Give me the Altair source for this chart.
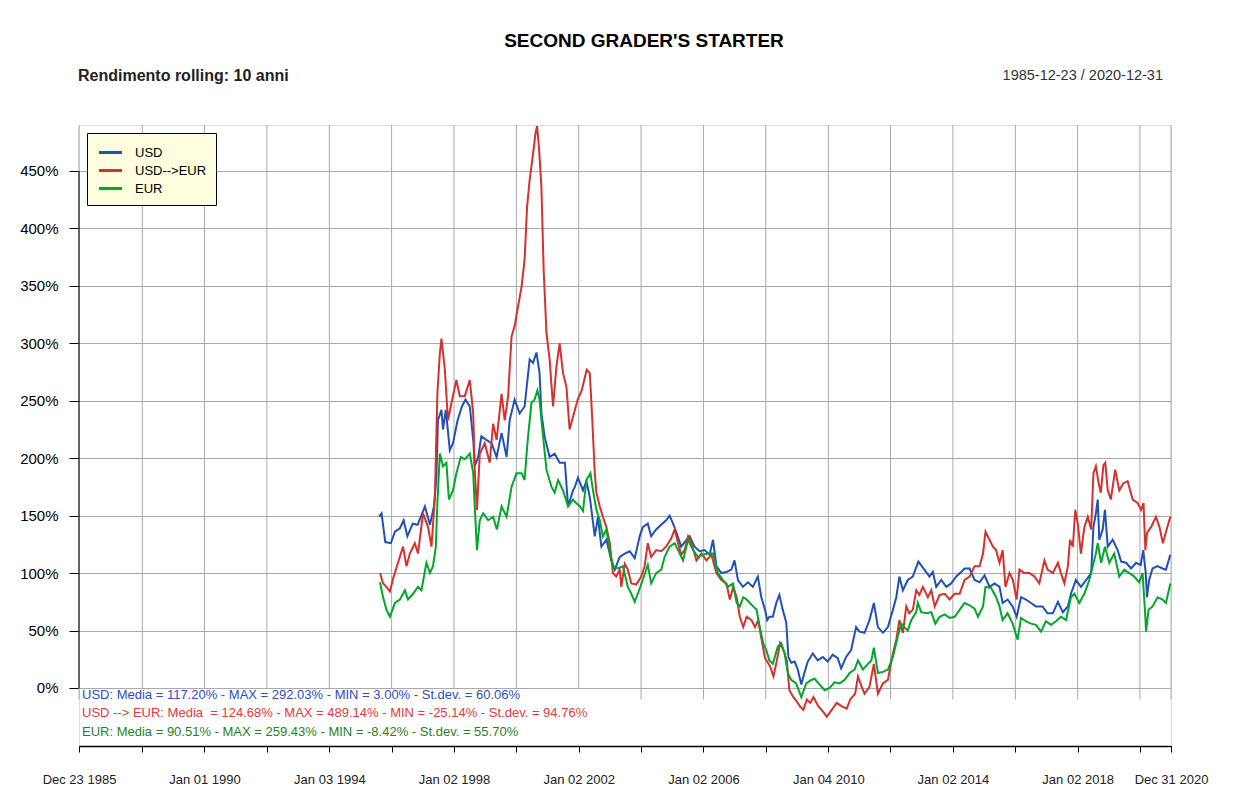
import altair as alt
import pandas as pd

# ---------------- texts ----------------
title_text = "SECOND GRADER'S STARTER"
subtitle_text = "Rendimento rolling: 10 anni"
period_text = "1985-12-23 / 2020-12-31"

series_names = ["USD", "USD-->EUR", "EUR"]
series_colors = ["#2150B7", "#D3322F", "#00A82A"]

stats_lines = [
    "USD: Media = 117.20% - MAX = 292.03% - MIN = 3.00% - St.dev. = 60.06%",
    "USD --> EUR: Media\u00a0 = 124.68% - MAX = 489.14% - MIN = -25.14% - St.dev. = 94.76%",
    "EUR: Media = 90.51% - MAX = 259.43% - MIN = -8.42% - St.dev. = 55.70%",
]
stats_colors = ["#2A4FC8", "#E03A3A", "#1E841E"]

# ---------------- axes ----------------
y_ticks = [0, 50, 100, 150, 200, 250, 300, 350, 400, 450]
x_ticks = ["1985-12-23", "1988-01-04", "1990-01-01", "1992-01-02", "1994-01-03",
           "1996-01-02", "1998-01-02", "2000-01-03", "2002-01-02", "2004-01-02",
           "2006-01-02", "2008-01-02", "2010-01-04", "2012-01-02", "2014-01-02",
           "2016-01-04", "2018-01-02", "2020-01-02", "2020-12-31"]

# ---------------- series (decimal year, rolling 10y return %) ----------------
usd = [(1995.60,149),(1995.68,152),(1995.80,127),(1995.98,126),(1996.11,136),(1996.27,139),
       (1996.39,146),(1996.51,132),(1996.68,143),(1996.84,142),(1997.07,158),(1997.23,142),
       (1997.36,158),(1997.44,184),(1997.49,233),(1997.60,242),(1997.65,225),(1997.74,242),
       (1997.87,207),(1997.97,213),(1998.12,233),(1998.26,245),(1998.37,251),(1998.51,245),
       (1998.62,216),(1998.67,193),(1998.78,201),(1998.88,219),(1999.04,216),(1999.21,213),
       (1999.37,201),(1999.53,222),(1999.69,201),(1999.79,233),(1999.95,251),(2000.11,239),
       (2000.27,245),(2000.43,286),(2000.54,283),(2000.65,292),(2000.75,274),(2000.81,239),
       (2000.91,219),(2001.07,201),(2001.23,204),(2001.39,196),(2001.56,196),(2001.66,158),
       (2001.82,172),(2001.88,175),(2001.98,183),(2002.14,172),(2002.25,180),(2002.36,166),
       (2002.52,132),(2002.62,149),(2002.73,123),(2002.89,129),(2003.05,111),(2003.16,103),
       (2003.32,114),(2003.48,117),(2003.64,119),(2003.80,113),(2003.96,132),(2004.06,140),
       (2004.22,143),(2004.33,132),(2004.49,138),(2004.65,142),(2004.81,146),(2004.92,150),
       (2005.03,143),(2005.13,136),(2005.29,123),(2005.46,129),(2005.56,132),(2005.72,123),
       (2005.88,119),(2006.04,120),(2006.20,116),(2006.31,129),(2006.42,106),(2006.58,100),
       (2006.74,101),(2006.90,103),(2007.00,111),(2007.11,94),(2007.27,88),(2007.43,92),
       (2007.59,88),(2007.75,97),(2007.86,79),(2007.98,68),(2008.05,59),(2008.12,62),
       (2008.23,62),(2008.34,74),(2008.44,81),(2008.55,68),(2008.66,57),(2008.73,27),
       (2008.82,22),(2008.93,23),(2009.03,16),(2009.14,3),(2009.25,14),(2009.35,23),
       (2009.51,30),(2009.67,24),(2009.83,27),(2009.99,23),(2010.15,29),(2010.31,26),
       (2010.42,17),(2010.58,27),(2010.74,33),(2010.90,53),(2011.01,49),(2011.17,48),
       (2011.33,59),(2011.47,74),(2011.60,53),(2011.76,48),(2011.92,53),(2012.08,68),
       (2012.19,79),(2012.29,97),(2012.40,85),(2012.56,94),(2012.72,97),(2012.90,110),
       (2013.09,103),(2013.25,97),(2013.36,101),(2013.47,88),(2013.63,94),(2013.79,88),
       (2013.95,91),(2014.11,97),(2014.27,101),(2014.38,104),(2014.54,104),(2014.70,94),
       (2014.86,92),(2015.02,98),(2015.18,88),(2015.34,91),(2015.50,88),(2015.60,74),
       (2015.76,77),(2015.92,71),(2016.05,62),(2016.19,79),(2016.35,77),(2016.51,74),
       (2016.67,71),(2016.88,71),(2017.04,65),(2017.21,65),(2017.37,75),(2017.53,66),
       (2017.69,71),(2017.79,82),(2017.95,94),(2018.11,88),(2018.28,94),(2018.44,100),
       (2018.51,140),(2018.59,152),(2018.65,164),(2018.70,129),(2018.81,138),(2018.88,155),
       (2018.97,123),(2019.13,129),(2019.29,120),(2019.40,110),(2019.56,109),(2019.72,104),
       (2019.88,109),(2020.03,107),(2020.11,120),(2020.19,100),(2020.23,79),(2020.30,94),
       (2020.41,104),(2020.57,106),(2020.73,104),(2020.84,103),(2020.98,116)]

usd_eur = [(1995.63,100),(1995.73,91),(1995.84,88),(1995.95,84),(1996.05,95),(1996.21,109),
       (1996.37,123),(1996.48,106),(1996.59,117),(1996.75,126),(1996.85,117),(1997.01,152),
       (1997.17,140),(1997.28,123),(1997.39,166),(1997.47,256),(1997.55,291),(1997.60,304),
       (1997.71,277),(1997.81,233),(1997.92,248),(1998.08,268),(1998.19,254),(1998.35,254),
       (1998.51,268),(1998.62,239),(1998.67,190),(1998.74,155),(1998.83,204),(1998.99,213),
       (1999.15,196),(1999.26,230),(1999.37,216),(1999.53,256),(1999.63,233),(1999.74,254),
       (1999.85,306),(1999.95,315),(2000.06,332),(2000.17,349),(2000.27,373),(2000.35,419),
       (2000.43,442),(2000.54,465),(2000.62,483),(2000.67,489),(2000.73,471),(2000.81,436),
       (2000.88,364),(2000.97,309),(2001.07,286),(2001.18,245),(2001.29,280),(2001.39,300),
       (2001.50,274),(2001.61,262),(2001.71,225),(2001.81,235),(2001.97,251),(2002.10,259),
       (2002.26,277),(2002.36,274),(2002.44,233),(2002.52,187),(2002.57,170),(2002.68,158),
       (2002.78,149),(2002.89,140),(2003.00,126),(2003.10,100),(2003.21,97),(2003.32,103),
       (2003.37,88),(2003.48,108),(2003.58,103),(2003.69,91),(2003.85,90),(2004.01,97),
       (2004.12,106),(2004.22,126),(2004.33,114),(2004.49,120),(2004.65,119),(2004.81,123),
       (2004.97,130),(2005.08,138),(2005.19,126),(2005.29,116),(2005.40,120),(2005.51,132),
       (2005.62,126),(2005.78,111),(2005.94,117),(2006.10,111),(2006.26,116),(2006.42,100),
       (2006.58,94),(2006.74,91),(2006.85,77),(2006.96,88),(2007.07,79),(2007.17,62),
       (2007.28,53),(2007.39,62),(2007.55,59),(2007.66,53),(2007.76,59),(2007.87,42),
       (2007.98,26),(2008.14,19),(2008.25,10),(2008.36,24),(2008.46,39),(2008.57,33),
       (2008.68,24),(2008.76,-2),(2008.89,-8),(2009.00,-12),(2009.10,-16),(2009.21,-19),
       (2009.32,-10),(2009.43,-13),(2009.53,-8),(2009.69,-16),(2009.85,-21),(2009.96,-25),
       (2010.12,-19),(2010.28,-13),(2010.44,-16),(2010.60,-18),(2010.71,-10),(2010.87,-5),
       (2010.96,10),(2011.08,1),(2011.17,-5),(2011.33,1),(2011.47,21),(2011.60,-5),
       (2011.76,4),(2011.92,7),(2012.08,30),(2012.19,42),(2012.29,59),(2012.40,48),
       (2012.51,71),(2012.61,65),(2012.72,68),(2012.83,85),(2012.93,81),(2013.04,88),
       (2013.20,79),(2013.31,85),(2013.42,71),(2013.58,81),(2013.74,82),(2013.90,77),
       (2014.06,82),(2014.22,82),(2014.38,94),(2014.54,97),(2014.70,106),(2014.86,106),
       (2014.97,117),(2015.05,136),(2015.18,129),(2015.29,123),(2015.39,120),(2015.50,109),
       (2015.60,120),(2015.69,88),(2015.82,100),(2015.93,94),(2016.05,77),(2016.14,103),
       (2016.30,100),(2016.46,100),(2016.62,97),(2016.78,91),(2016.94,111),(2017.04,103),
       (2017.21,100),(2017.37,109),(2017.47,100),(2017.58,91),(2017.69,106),(2017.76,129),
       (2017.85,123),(2017.93,155),(2018.01,143),(2018.11,117),(2018.22,140),(2018.33,149),
       (2018.44,138),(2018.51,187),(2018.59,193),(2018.68,178),(2018.75,170),(2018.83,194),
       (2018.89,196),(2018.97,172),(2019.07,164),(2019.21,190),(2019.34,172),(2019.47,178),
       (2019.61,180),(2019.77,164),(2019.93,161),(2020.04,155),(2020.12,161),(2020.18,120),
       (2020.23,135),(2020.36,140),(2020.52,149),(2020.63,140),(2020.74,126),(2020.86,138),
       (2020.98,149)]

eur = [(1995.63,92),(1995.73,79),(1995.84,68),(1995.95,62),(1996.11,74),(1996.27,77),
       (1996.43,85),(1996.53,77),(1996.69,82),(1996.85,88),(1996.96,85),(1997.12,109),
       (1997.23,100),(1997.33,106),(1997.42,123),(1997.47,161),(1997.55,204),(1997.65,193),
       (1997.76,196),(1997.84,164),(1997.97,172),(1998.08,187),(1998.22,201),(1998.35,199),
       (1998.51,204),(1998.62,187),(1998.67,158),(1998.74,120),(1998.83,146),(1998.94,152),
       (1999.10,146),(1999.26,149),(1999.38,138),(1999.53,158),(1999.69,149),(1999.85,175),
       (2000.01,187),(2000.17,187),(2000.27,181),(2000.36,213),(2000.49,248),(2000.59,251),
       (2000.68,259),(2000.75,251),(2000.84,225),(2000.97,190),(2001.13,175),(2001.23,170),
       (2001.34,181),(2001.50,172),(2001.66,158),(2001.82,164),(2001.88,162),(2002.04,158),
       (2002.14,154),(2002.25,181),(2002.38,187),(2002.46,172),(2002.57,155),(2002.68,146),
       (2002.78,132),(2002.89,138),(2003.00,119),(2003.10,106),(2003.26,104),(2003.42,106),
       (2003.58,88),(2003.69,82),(2003.80,75),(2003.90,82),(2004.06,94),(2004.22,107),
       (2004.33,91),(2004.49,100),(2004.65,103),(2004.76,114),(2004.92,123),(2005.08,126),
       (2005.19,120),(2005.35,111),(2005.51,129),(2005.67,120),(2005.83,114),(2005.99,116),
       (2006.15,117),(2006.31,117),(2006.47,100),(2006.63,94),(2006.79,88),(2006.95,91),
       (2007.07,74),(2007.17,71),(2007.28,79),(2007.39,77),(2007.49,74),(2007.60,71),
       (2007.71,68),(2007.81,53),(2007.92,39),(2008.02,33),(2008.12,24),(2008.23,21),
       (2008.39,36),(2008.50,39),(2008.61,30),(2008.71,13),(2008.82,7),(2008.98,4),
       (2009.14,-8),(2009.30,4),(2009.46,7),(2009.57,8),(2009.73,3),(2009.89,-2),
       (2010.05,0),(2010.21,5),(2010.37,4),(2010.53,7),(2010.69,13),(2010.85,16),
       (2010.96,24),(2011.12,16),(2011.28,21),(2011.39,24),(2011.47,35),(2011.60,13),
       (2011.76,14),(2011.92,16),(2012.08,27),(2012.24,45),(2012.35,56),(2012.45,53),
       (2012.56,50),(2012.67,59),(2012.83,66),(2012.88,74),(2012.99,66),(2013.15,65),
       (2013.31,66),(2013.44,56),(2013.58,62),(2013.74,64),(2013.90,61),(2014.06,62),
       (2014.22,68),(2014.38,74),(2014.54,72),(2014.70,69),(2014.81,62),(2014.97,71),
       (2015.05,88),(2015.23,87),(2015.39,79),(2015.50,71),(2015.60,59),(2015.76,65),
       (2015.92,56),(2016.08,42),(2016.19,61),(2016.35,58),(2016.51,56),(2016.67,55),
       (2016.83,49),(2016.99,58),(2017.15,55),(2017.31,58),(2017.47,62),(2017.63,59),
       (2017.79,79),(2017.90,82),(2018.06,74),(2018.22,82),(2018.38,94),(2018.49,106),
       (2018.59,117),(2018.65,126),(2018.76,109),(2018.88,123),(2019.02,109),(2019.18,117),
       (2019.34,97),(2019.50,103),(2019.66,100),(2019.82,97),(2019.98,92),(2020.09,100),
       (2020.17,65),(2020.20,49),(2020.28,68),(2020.41,71),(2020.57,79),(2020.73,77),
       (2020.84,74),(2020.98,91)]


def dec_to_date(t):
    yr = int(t)
    d = pd.Timestamp(year=yr, month=1, day=1) + pd.Timedelta(days=(t - yr) * 365.25)
    return d.strftime("%Y-%m-%d")


def to_dt(s):
    y, m, d = (int(p) for p in s.split("-"))
    return alt.DateTime(year=y, month=m, date=d, utc=True)


rows = []
for name, ser in zip(series_names, [usd, usd_eur, eur]):
    for t, v in ser:
        rows.append({"date": dec_to_date(t), "value": v, "serie": name})
df = pd.DataFrame(rows)

FONT = "Liberation Sans"
W, H = 1092, 621

xscale = alt.Scale(type="utc", domain=[to_dt(x_ticks[0]), to_dt(x_ticks[-1])], nice=False)
yscale = alt.Scale(domain=[-50.5, 490], nice=False, zero=False)

xaxis = alt.Axis(
    values=[to_dt(s) for s in x_ticks],
    labelExpr="(utcyear(datum.value) % 4 == 2 || utcmonth(datum.value) == 11) ? utcFormat(datum.value, '%b %d %Y') : ''",
    title=None, grid=False, domain=True, domainColor="black", domainWidth=1.5,
    ticks=True, tickColor="black", tickSize=6, tickWidth=1,
    labelFont=FONT, labelFontSize=13, labelColor="#222222", labelPadding=21,
    labelFlush=False, labelOverlap=False,
)
yaxis = alt.Axis(
    values=y_ticks, labelExpr="datum.value + '%'", title=None,
    grid=True, gridColor="#AAAAAA", gridWidth=1, domain=False,
    ticks=True, tickColor="black", tickSize=10, tickWidth=1,
    labelFont=FONT, labelFontSize=15, labelColor="black", labelPadding=11,
)

# vertical grid lines
grid_df = pd.DataFrame({"date": x_ticks})
vgrid = alt.Chart(grid_df).mark_rule(color="#AAAAAA", strokeWidth=1).encode(
    x=alt.X("date:T", scale=xscale, axis=xaxis),
    y=alt.YDatum(datum=-10, scale=yscale, axis=yaxis),
    y2=alt.Y2Datum(datum=490),
)

# y axis line (0% to 450%)
yline_df = pd.DataFrame({"date": [x_ticks[0]], "lo": [y_ticks[0]], "hi": [y_ticks[-1]]})
yline = alt.Chart(yline_df).mark_rule(color="black", strokeWidth=1).encode(
    x=alt.X("date:T", scale=xscale, axis=xaxis),
    y=alt.Y("lo:Q", scale=yscale, axis=yaxis),
    y2="hi:Q",
)

lines = alt.Chart(df).mark_line(strokeWidth=2).encode(
    x=alt.X("date:T", scale=xscale, axis=xaxis),
    y=alt.Y("value:Q", scale=yscale, axis=yaxis),
    color=alt.Color(
        "serie:N",
        scale=alt.Scale(domain=series_names, range=series_colors),
        sort=series_names,
        legend=alt.Legend(
            title=None, orient="none", legendX=8, legendY=8,
            fillColor="#FFFFE0", strokeColor="black", padding=9,
            symbolType="M-1.3,0H1.3", symbolSize=313, symbolStrokeWidth=3,
            symbolOffset=4, labelOffset=14, rowPadding=0,
            labelFont=FONT, labelFontSize=13, labelColor="black",
        ),
    ),
    detail="serie:N",
)

# white box behind the statistics text (as in the reference)
stats_bg = alt.Chart(pd.DataFrame({"k": [0]})).mark_rect(color="white").encode(
    x=alt.value(1), x2=alt.value(521), y=alt.value(564), y2=alt.value(616)
)


def txt(s, x, y, size, color, align="left", weight="normal"):
    return alt.Chart(pd.DataFrame({"t": [s]})).mark_text(
        align=align, baseline="middle", font=FONT, fontSize=size,
        fontWeight=weight, color=color,
    ).encode(text="t:N", x=alt.value(x), y=alt.value(y))


texts = [
    txt(title_text, 565, -84, 19, "black", align="center", weight="bold"),
    txt(subtitle_text, -1, -49, 16, "#222222", weight="bold"),
    txt(period_text, 1084, -49, 14.5, "#333333", align="right"),
    txt(stats_lines[0], 3, 570, 13, stats_colors[0]),
    txt(stats_lines[1], 3, 588, 13, stats_colors[1]),
    txt(stats_lines[2], 3, 607, 13, stats_colors[2]),
]

chart = alt.layer(vgrid, yline, lines, stats_bg, *texts).properties(
    width=W, height=H,
    padding={"left": 71, "top": 117, "right": 63, "bottom": 42},
    autosize=alt.AutoSizeParams(type="none"),
).configure_view(stroke=None).configure(font=FONT, background="white")

chart.save("out.html", embed_options={"renderer": "svg", "actions": False})
